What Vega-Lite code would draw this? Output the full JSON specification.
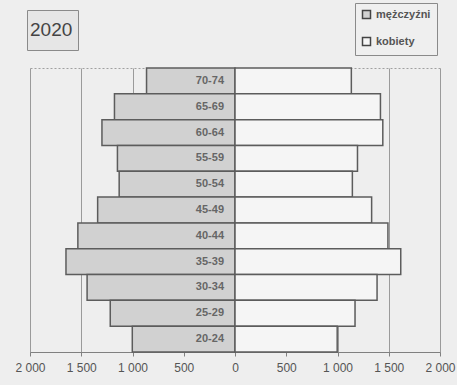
{
  "$schema": "https://vega.github.io/schema/vega-lite/v6.json",
  "width": 410,
  "height": 284,
  "autosize": "none",
  "padding": {"left": 30, "top": 68, "right": 17, "bottom": 33},
  "background": "#eeeeee",
  "config": {
    "font": "Liberation Sans",
    "view": {"stroke": "#a0a0a0", "strokeDash": [2, 2], "strokeWidth": 1, "fill": "#f1f1f1"}
  },
  "datasets": {
    "piramida": [
      {"wiek": "70-74", "plec": "mężczyźni", "liczba": -863},
      {"wiek": "65-69", "plec": "mężczyźni", "liczba": -1176},
      {"wiek": "60-64", "plec": "mężczyźni", "liczba": -1298},
      {"wiek": "55-59", "plec": "mężczyźni", "liczba": -1147},
      {"wiek": "50-54", "plec": "mężczyźni", "liczba": -1130},
      {"wiek": "45-49", "plec": "mężczyźni", "liczba": -1340},
      {"wiek": "40-44", "plec": "mężczyźni", "liczba": -1533},
      {"wiek": "35-39", "plec": "mężczyźni", "liczba": -1649},
      {"wiek": "30-34", "plec": "mężczyźni", "liczba": -1443},
      {"wiek": "25-29", "plec": "mężczyźni", "liczba": -1217},
      {"wiek": "20-24", "plec": "mężczyźni", "liczba": -1002},
      {"wiek": "70-74", "plec": "kobiety", "liczba": 1135},
      {"wiek": "65-69", "plec": "kobiety", "liczba": 1419},
      {"wiek": "60-64", "plec": "kobiety", "liczba": 1442},
      {"wiek": "55-59", "plec": "kobiety", "liczba": 1195},
      {"wiek": "50-54", "plec": "kobiety", "liczba": 1145},
      {"wiek": "45-49", "plec": "kobiety", "liczba": 1333},
      {"wiek": "40-44", "plec": "kobiety", "liczba": 1492},
      {"wiek": "35-39", "plec": "kobiety", "liczba": 1617},
      {"wiek": "30-34", "plec": "kobiety", "liczba": 1386},
      {"wiek": "25-29", "plec": "kobiety", "liczba": 1171},
      {"wiek": "20-24", "plec": "kobiety", "liczba": 997}
    ],
    "rok": [{"rok": "2020"}]
  },
  "layer": [
    {
      "data": {"name": "piramida"},
      "mark": {"type": "bar", "stroke": "#5c5c5c", "strokeWidth": 1.5},
      "encoding": {
        "y": {
          "field": "wiek", "type": "ordinal",
          "sort": ["70-74", "65-69", "60-64", "55-59", "50-54", "45-49", "40-44", "35-39", "30-34", "25-29", "20-24"],
          "scale": {"paddingInner": 0, "paddingOuter": 0},
          "axis": null
        },
        "x": {
          "field": "liczba", "type": "quantitative",
          "scale": {"domain": [-2000, 2000], "nice": false},
          "axis": {
            "title": null,
            "values": [-2000, -1500, -1000, -500, 0, 500, 1000, 1500, 2000],
            "labelExpr": "replace(format(abs(datum.value), ','), ',', ' ')",
            "labelFontSize": 12,
            "labelColor": "#555555",
            "labelPadding": 6,
            "labelFlush": false,
            "tickSize": 4,
            "tickColor": "#808080",
            "domainColor": "#808080",
            "grid": true,
            "gridColor": "#9a9a9a",
            "gridWidth": 1
          }
        },
        "fill": {
          "field": "plec", "type": "nominal",
          "scale": {"domain": ["mężczyźni", "kobiety"], "range": ["#d1d1d1", "#f5f5f5"]},
          "legend": {
            "title": null,
            "orient": "none",
            "legendX": 325,
            "legendY": -65,
            "symbolType": "square",
            "symbolSize": 64,
            "symbolStrokeColor": "#444444",
            "symbolStrokeWidth": 1.5,
            "labelFontSize": 11,
            "labelFontWeight": "bold",
            "labelColor": "#555555",
            "labelOffset": 4,
            "rowPadding": 12,
            "padding": 6,
            "strokeColor": "#8a8a8a",
            "fillColor": "#efefef"
          }
        }
      }
    },
    {
      "data": {"name": "piramida"},
      "transform": [{"filter": "datum.plec === 'mężczyźni'"}],
      "mark": {"type": "text", "align": "right", "baseline": "middle", "dx": -11, "fontSize": 11, "fontWeight": "bold", "color": "#666666"},
      "encoding": {
        "y": {"field": "wiek", "type": "ordinal", "sort": ["70-74", "65-69", "60-64", "55-59", "50-54", "45-49", "40-44", "35-39", "30-34", "25-29", "20-24"]},
        "x": {"datum": 0, "type": "quantitative"},
        "text": {"field": "wiek"}
      }
    },
    {
      "data": {"name": "rok"},
      "mark": {"type": "point", "opacity": 0},
      "encoding": {
        "shape": {
          "field": "rok", "type": "nominal",
          "scale": {"range": ["M0,-1V1"]},
          "legend": {
            "title": null,
            "orient": "none",
            "legendX": -3,
            "legendY": -58,
            "symbolSize": 900,
            "symbolStrokeWidth": 0,
            "symbolStrokeColor": "transparent",
            "symbolFillColor": "transparent",
            "labelFontSize": 19,
            "labelColor": "#444444",
            "labelOffset": -32,
            "padding": 5,
            "strokeColor": "#8a8a8a",
            "fillColor": "#e6e6e6"
          }
        }
      }
    }
  ]
}
